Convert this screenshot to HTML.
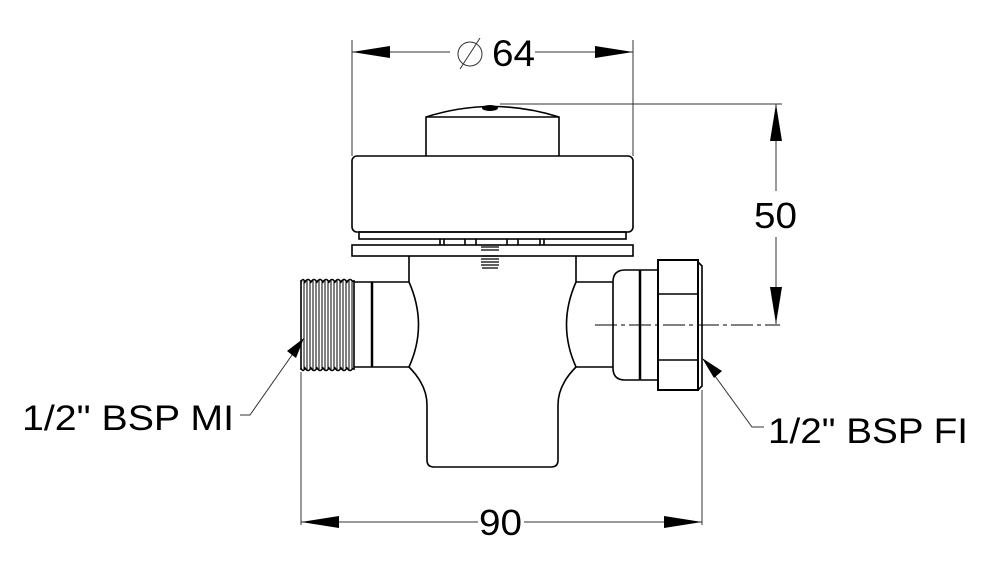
<!DOCTYPE html>
<html><head><meta charset="utf-8"><style>
html,body{margin:0;padding:0;background:#fff;}
svg{display:block;}
text{font-family:"Liberation Sans",sans-serif;fill:#000;}
</style></head><body>
<svg width="1000" height="575" viewBox="0 0 1000 575" xmlns="http://www.w3.org/2000/svg">
<g fill="none" stroke="#000" stroke-width="1.6">
<path d="M426,156 V117 Q492,96 559,117 V156"/>
<line x1="426" y1="117" x2="559" y2="117"/>
<rect x="352" y="156" width="281" height="76" rx="5"/>
<rect x="359" y="232" width="267" height="7"/>
<rect x="352" y="245" width="281" height="11"/>
<path d="M440,239 V245 M444,239 V245 M465,239 V245 M476,239 V245 M507,239 V245 M518,239 V245 M540,239 V245 M544,239 V245"/>
<path d="M409,256 V282 Q428,325 409,367 Q427,385 427,405 V460 Q427,467 434,467 H551 Q558,467 558,460 V405 Q558,385 576,367 Q557,325 576,282 V256"/>
<path d="M354,282 H409 M354,367 H409"/>
<line x1="372" y1="282" x2="372" y2="367" stroke-width="2.5"/>
<path d="M301,282 Q303,277 305,282 Q308,277 311,282 Q314,277 317,282 Q320,277 323,282 Q326,277 329,282 Q332,277 335,282 Q338,277 341,282 Q344,277 347,282 Q350,277 353,282 M301,368 Q303,373 305,368 Q308,373 311,368 Q314,373 317,368 Q320,373 323,368 Q326,373 329,368 Q332,373 335,368 Q338,373 341,368 Q344,373 347,368 Q350,373 353,368"/>
<path d="M301,280 V370 M354,280 V370" />
<g stroke-width="1">
<path d="M304,280 V370 M307,280 V370 M310,280 V370 M313,280 V370 M316,280 V370 M319,280 V370 M322,280 V370 M325,280 V370 M328,280 V370 M331,280 V370 M334,280 V370 M337,280 V370 M340,280 V370 M343,280 V370 M346,280 V370 M349,280 V370 M352,280 V370"/>
</g>
<path d="M576,282 H613 M576,367 H613"/>
<path d="M658,270 H625 Q613,270 613,282 V368 Q613,380 625,380 H658"/>
<line x1="640" y1="270" x2="640" y2="380" stroke-width="2.5"/>
<rect x="658" y="260" width="40" height="130" stroke-width="2"/>
<path d="M698,262 L702,266 V386 L698,390"/>
<path d="M658,294 H699 M658,360 H699"/>
<path d="M482,256 H498 M481,259 H499 M481,262 H499 M481,265 H499 M482,268 H498" stroke-width="1.2"/>
<path d="M481,250 H499 M481,247 H499" stroke-width="1.2"/>
</g>
<ellipse cx="490" cy="108" rx="8" ry="3" fill="#000"/>
<path d="M595,325 H780" stroke="#000" stroke-width="1" stroke-dasharray="22,4,4,4" fill="none"/>
<g stroke="#333" stroke-width="1" fill="none">
<path d="M352,40 V156 M633,40 V156"/>
<path d="M352,52 H450 M535,52 H633"/>
<path d="M500,104 H782"/>
<path d="M776,104 V191 M776,237 V324"/>
<path d="M301,372 V525 M702,390 V525"/>
<path d="M301,522 H478 M524,522 H702"/>
<path d="M240,415 H250 L299,345"/>
<path d="M764,427 H752 L707,365"/>
<line x1="460" y1="69" x2="480" y2="38"/>
<circle cx="470" cy="54" r="12"/>
</g>
<g fill="#000">
<polygon points="352,52 390,46 390,58"/>
<polygon points="633,52 595,46 595,58"/>
<polygon points="776,104 770,141 782,141"/>
<polygon points="776,324 770,287 782,287"/>
<polygon points="301,522 339,516 339,528"/>
<polygon points="702,522 664,516 664,528"/>
<polygon points="304,338 296,358 287,351"/>
<polygon points="702,358 722,371 714,378"/>
</g>
<text x="492" y="66" font-size="37" textLength="43" lengthAdjust="spacingAndGlyphs">64</text>
<text x="754" y="228" font-size="36" textLength="43" lengthAdjust="spacingAndGlyphs">50</text>
<text x="479" y="535" font-size="36" textLength="43" lengthAdjust="spacingAndGlyphs">90</text>
<text x="22" y="430" font-size="35" textLength="212" lengthAdjust="spacingAndGlyphs">1/2" BSP MI</text>
<text x="768" y="443" font-size="35" textLength="200" lengthAdjust="spacingAndGlyphs">1/2" BSP FI</text>
</svg>
</body></html>
